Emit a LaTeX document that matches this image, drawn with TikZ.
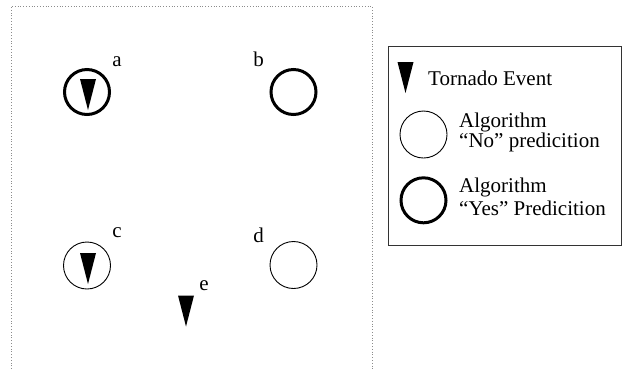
\documentclass[tikz,border=0pt]{standalone}
\usepackage{fontspec}
\setmainfont{Liberation Serif}
\begin{document}
\begin{tikzpicture}[x=1pt,y=-1pt,
  yescirc/.style={circle,draw=black,line width=3pt,minimum size=45pt,inner sep=0pt},
  nocirc/.style={circle,draw=black,line width=0.9pt,minimum size=47pt,inner sep=0pt},
  lbl/.style={anchor=base,inner sep=0pt,font=\fontsize{21}{20}\selectfont},
  txt/.style={anchor=base west,inner sep=0pt,font=\fontsize{21}{20}\selectfont},
  tornado/.pic={\fill[black] (-8,-15.5) -- (8,-15.5) -- (0,15.5) -- cycle;},
  frame/.style={draw=black!45,line width=0.8pt,dotted},
  legendbox/.style={draw=black!80,line width=1pt}
]
\useasboundingbox (0,0) rectangle (623,368);
% dotted frame
\draw[frame] (11,369) -- (11,6) -- (372,6) -- (372,369);
% map symbols
\node[yescirc] (ca) at (87,92) {};
\node[yescirc] (cb) at (293.5,92) {};
\node[nocirc] (cc) at (87,265.5) {};
\node[nocirc] (cd) at (293.5,265) {};
\pic at (88,94.5) {tornado};
\pic at (88,268.5) {tornado};
\pic (te) at (186,311) {tornado};
% labels
\node[lbl] (la) at (117,66.5) {a};
\node[lbl] (lb) at (258.5,66.5) {b};
\node[lbl] (lc) at (117,237) {c};
\node[lbl] (ld) at (258.5,242) {d};
\node[lbl] (le) at (204,290) {e};
% legend
\node[legendbox,minimum width=233pt,minimum height=199pt,anchor=north west,inner sep=0pt] (leg) at (388,46) {};
\pic at (405.5,77.5) {tornado};
\node[txt] (t1) at (428,85.5) {Tornado Event};
\node[nocirc] (lno) at (423.5,134.5) {};
\node[txt] (t2) at (459,127.7) {Algorithm};
\node[txt] (t3) at (459,147.7) {``No'' predicition};
\node[yescirc] (lyes) at (423.5,200.3) {};
\node[txt] (t4) at (459,192.5) {Algorithm};
\node[txt] (t5) at (459,215.5) {``Yes'' Predicition};
\end{tikzpicture}
\end{document}
